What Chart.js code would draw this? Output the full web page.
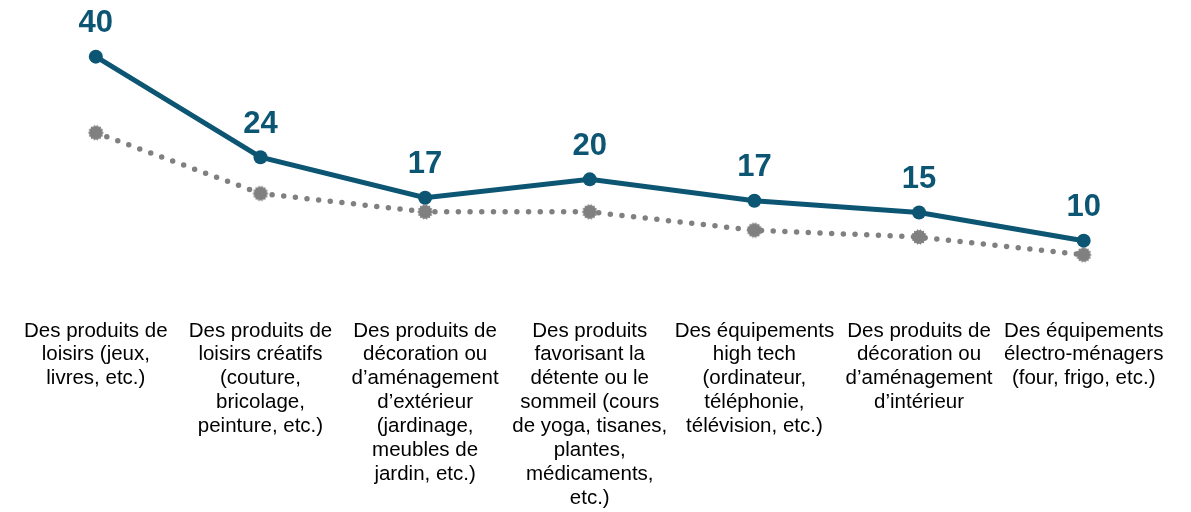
<!DOCTYPE html>
<html>
<head>
<meta charset="utf-8">
<script src="https://cdn.jsdelivr.net/npm/chart.js@4/dist/chart.umd.min.js"></script>
<style>
  html, body { margin: 0; padding: 0; background: #fff; }
  #wrap { width: 1191px; height: 512px; }
</style>
</head>
<body>
<div id="wrap"><canvas id="lineChart" width="1191" height="512"></canvas></div>
<script>
// categories (one array of lines per label)
const categories = [
    ['Des produits de', 'loisirs (jeux,', 'livres, etc.)'],
    ['Des produits de', 'loisirs créatifs', '(couture,', 'bricolage,', 'peinture, etc.)'],
    ['Des produits de', 'décoration ou', 'd’aménagement', 'd’extérieur', '(jardinage,', 'meubles de', 'jardin, etc.)'],
    ['Des produits', 'favorisant la', 'détente ou le', 'sommeil (cours', 'de yoga, tisanes,', 'plantes,', 'médicaments,', 'etc.)'],
    ['Des équipements', 'high tech', '(ordinateur,', 'téléphonie,', 'télévision, etc.)'],
    ['Des produits de', 'décoration ou', 'd’aménagement', 'd’intérieur'],
    ['Des équipements', 'électro-ménagers', '(four, frigo, etc.)']
];

// main series (labelled) and comparison series (dotted, unlabelled)
const mainValues = [40, 23.6, 17, 20, 16.5, 14.6, 10];
const compareValues = [27.6, 17.7, 14.7, 14.7, 11.7, 10.6, 7.7];

const teal = '#0d5673';
const grey = '#808080';

// small burst-shaped marker for the grey series
function makeBurst(color) {
    const c = document.createElement('canvas');
    c.width = 18; c.height = 18;
    const g = c.getContext('2d');
    g.fillStyle = color;
    g.beginPath();
    const spikes = 14;
    for (let i = 0; i < spikes * 2; i++) {
        const r = i % 2 === 0 ? 8 : 6.4;
        const a = (Math.PI * i) / spikes;
        const x = 9 + r * Math.cos(a);
        const y = 9 + r * Math.sin(a);
        if (i === 0) g.moveTo(x, y); else g.lineTo(x, y);
    }
    g.closePath();
    g.fill();
    return c;
}

// draws the rounded values above the main line
const valueLabels = {
    id: 'valueLabels',
    afterDatasetsDraw(chart) {
        const ctx = chart.ctx;
        const meta = chart.getDatasetMeta(0);
        ctx.save();
        ctx.font = 'bold 31px "Liberation Sans", Arial, sans-serif';
        ctx.fillStyle = teal;
        ctx.textAlign = 'center';
        ctx.textBaseline = 'middle';
        meta.data.forEach((pt, i) => {
            ctx.fillText(String(Math.round(mainValues[i])), pt.x, pt.y - 33);
        });
        ctx.restore();
    }
};

const ctx = document.getElementById('lineChart').getContext('2d');
new Chart(ctx, {
    type: 'line',
    data: {
        labels: categories,
        datasets: [
            {
                label: 'Principal',
                data: mainValues,
                borderColor: teal,
                backgroundColor: teal,
                borderWidth: 5,
                pointRadius: 7,
                pointHoverRadius: 7,
                pointBackgroundColor: teal,
                pointBorderWidth: 0,
                tension: 0
            },
            {
                label: 'Comparaison',
                data: compareValues,
                borderColor: grey,
                backgroundColor: grey,
                borderWidth: 5.5,
                borderDash: [0, 11.7],
                borderCapStyle: 'round',
                pointStyle: makeBurst(grey),
                pointRadius: 8,
                tension: 0,
                order: 1
            }
        ]
    },
    options: {
        responsive: false,
        animation: false,
        layout: {
            padding: { top: 26, left: 13, right: 25, bottom: 0 }
        },
        plugins: {
            legend: { display: false },
            tooltip: { enabled: false }
        },
        scales: {
            x: {
                offset: true,
                grid: { display: false, drawTicks: false },
                border: { display: false },
                afterFit(scale) { scale.height = 210; },
                ticks: {
                    color: '#000',
                    autoSkip: false,
                    maxRotation: 0,
                    minRotation: 0,
                    padding: 17,
                    font: { family: '"Liberation Sans", Arial, sans-serif', size: 20.5, lineHeight: 1.165 }
                }
            },
            y: {
                display: false,
                min: 0,
                max: 45
            }
        }
    },
    plugins: [valueLabels]
});
</script>
</body>
</html>
